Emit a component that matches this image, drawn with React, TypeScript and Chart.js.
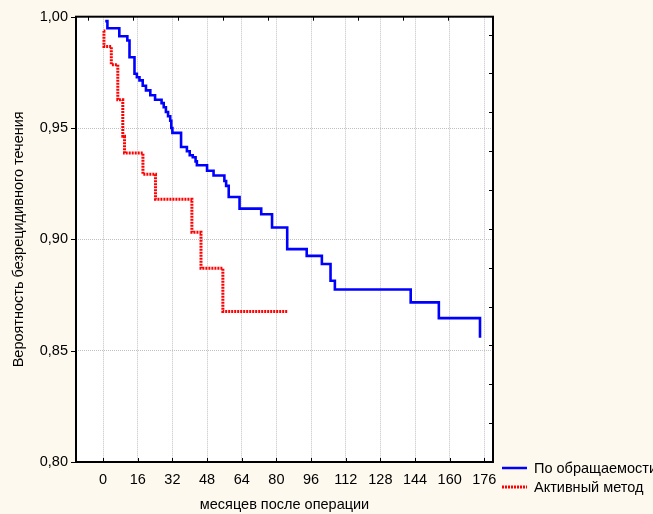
import React, { useEffect, useRef } from "react";
import { Chart, registerables } from "chart.js";

Chart.register(...registerables);

const xTicks = [0, 16, 32, 48, 64, 80, 96, 112, 128, 144, 160, 176];
const yTicks = [0.8, 0.85, 0.9, 0.95, 1.0];
const seriesNames = ["По обращаемости", "Активный метод"];
const xTitle = "месяцев после операции";
const yTitle = "Вероятность безрецидивного течения";

const blueTimes = [1, 2, 7.5, 11.2, 12.2, 14.5, 15.6, 16.8, 18.3, 19.8, 21.8, 24, 27, 28, 29, 30, 31, 31.5, 32, 36, 38.7, 40, 41.4, 42.7, 43.3, 48, 51, 56, 56.8, 58, 63, 73, 78, 85, 94, 101, 105, 107, 142, 155, 174];
const blueValues = [0.998, 0.9948, 0.9912, 0.9893, 0.9818, 0.9744, 0.9728, 0.9714, 0.969, 0.9669, 0.9647, 0.9627, 0.9612, 0.9593, 0.9572, 0.9553, 0.9533, 0.95, 0.9478, 0.9415, 0.9396, 0.9378, 0.9369, 0.935, 0.9333, 0.9308, 0.9287, 0.9262, 0.924, 0.919, 0.9138, 0.9113, 0.9053, 0.8956, 0.8926, 0.8889, 0.8814, 0.8775, 0.8717, 0.8646, 0.8558];

const redTimes = [0.3, 0.4, 3.8, 6.8, 9.1, 9.9, 18.4, 24.2, 41, 45.2, 55.3, 85];
const redValues = [0.9936, 0.9866, 0.9784, 0.9627, 0.9463, 0.9388, 0.9292, 0.918, 0.9032, 0.887, 0.8676, 0.8676];

const FONT = "'Liberation Sans', Arial, sans-serif";
const FSIZE = 14.5;
const BLUE = "#0000ff";
const RED = "#ff0000";

const framePlugin = {
  id: "frame",
  beforeDraw(chart: any) {
    const { ctx, chartArea: a } = chart;
    ctx.save();
    ctx.fillStyle = "#ffffff";
    ctx.fillRect(a.left, a.top, a.right - a.left, a.bottom - a.top);
    ctx.restore();
  },
  afterDraw(chart: any) {
    const { ctx, chartArea: a, scales } = chart;
    const w = a.right - a.left;
    const h = a.bottom - a.top;
    ctx.save();
    ctx.strokeStyle = "#000";
    ctx.lineWidth = 1;
    ctx.setLineDash([]);
    ctx.beginPath();
    xTicks.forEach((v) => {
      const px = Math.round(scales.x.getPixelForValue(v)) + 0.5;
      ctx.moveTo(px, a.bottom);
      ctx.lineTo(px, a.bottom - 4);
    });
    yTicks.forEach((v) => {
      const py = Math.round(scales.y.getPixelForValue(v)) + 0.5;
      ctx.moveTo(a.left, py);
      ctx.lineTo(a.left - 5, py);
    });
    const sx = w / 9.26;
    for (let k = 0; k <= 9; k++) {
      const px = Math.round(a.left + (k + 0.26) * sx) + 0.5;
      ctx.moveTo(px, a.top);
      ctx.lineTo(px, a.top + 4);
    }
    const sy = h / 11.46;
    for (let k = 0; k <= 11; k++) {
      const py = Math.round(a.bottom - k * sy) + 0.5;
      ctx.moveTo(a.right, py);
      ctx.lineTo(a.right - 4, py);
    }
    ctx.stroke();
    ctx.lineWidth = 2;
    ctx.strokeRect(a.left, a.top, w, h);

    // legend
    const lx = a.right + 9;
    const y1 = a.bottom + 6;
    const y2 = a.bottom + 25;
    ctx.lineWidth = 2.5;
    ctx.strokeStyle = BLUE;
    ctx.beginPath();
    ctx.moveTo(lx, y1);
    ctx.lineTo(lx + 25, y1);
    ctx.stroke();
    ctx.lineWidth = 3;
    ctx.strokeStyle = RED;
    ctx.setLineDash([2, 1]);
    ctx.beginPath();
    ctx.moveTo(lx, y2);
    ctx.lineTo(lx + 25, y2);
    ctx.stroke();
    ctx.setLineDash([]);
    ctx.fillStyle = "#000";
    ctx.font = FSIZE + "px " + FONT;
    ctx.textBaseline = "middle";
    ctx.textAlign = "left";
    ctx.fillText(seriesNames[0], lx + 32, y1 + 1);
    ctx.fillText(seriesNames[1], lx + 32, y2 + 1);
    ctx.restore();
  },
};

export default function App() {
  const ref = useRef<HTMLCanvasElement | null>(null);
  useEffect(() => {
    if (!ref.current) return;
    const chart = new Chart(ref.current, {
      type: "line",
      data: {
        datasets: [
          {
            label: seriesNames[0],
            data: blueTimes.map((t, i) => ({ x: t, y: blueValues[i] })),
            borderColor: BLUE,
            borderWidth: 2.6,
            stepped: "before",
            pointRadius: 0,
            fill: false,
          },
          {
            label: seriesNames[1],
            data: redTimes.map((t, i) => ({ x: t, y: redValues[i] })),
            borderColor: RED,
            borderWidth: 3,
            borderDash: [2, 1],
            stepped: "before",
            pointRadius: 0,
            fill: false,
          },
        ],
      },
      options: {
        animation: false,
        responsive: false,
        devicePixelRatio: 1,
        layout: { padding: { top: 15, right: 160, left: 0, bottom: 0 } },
        plugins: { legend: { display: false }, tooltip: { enabled: false } },
        scales: {
          x: {
            type: "linear",
            min: -12.5,
            max: 180,
            afterBuildTicks: (s: any) => {
              s.ticks = xTicks.map((v) => ({ value: v }));
            },
            afterFit: (s: any) => {
              s.height = 52;
            },
            grid: { color: "#c0c0c0", lineWidth: 1, drawTicks: false },
            border: { display: false, dash: [1, 1] },
            ticks: {
              color: "#000",
              font: { family: FONT, size: FSIZE },
              padding: 9,
              maxRotation: 0,
              autoSkip: false,
              callback: (v: any) => String(v),
            },
            title: {
              display: true,
              text: xTitle,
              color: "#000",
              font: { family: FONT, size: FSIZE },
              padding: { top: 0, bottom: 0 },
            },
          },
          y: {
            type: "linear",
            min: 0.8,
            max: 1.0,
            afterBuildTicks: (s: any) => {
              s.ticks = yTicks.map((v) => ({ value: v }));
            },
            afterFit: (s: any) => {
              s.width = 76;
            },
            grid: {
              color: (c: any) =>
                c.tick && (Math.abs(c.tick.value - 0.8) < 1e-6 || Math.abs(c.tick.value - 1) < 1e-6)
                  ? "rgba(0,0,0,0)"
                  : "#c0c0c0",
              lineWidth: 1,
              drawTicks: false,
            },
            border: { display: false, dash: [1, 1] },
            ticks: {
              color: "#000",
              font: { family: FONT, size: FSIZE },
              padding: 8,
              callback: (v: any) => Number(v).toFixed(2).replace(".", ","),
            },
            title: {
              display: true,
              text: yTitle,
              color: "#000",
              font: { family: FONT, size: FSIZE },
              padding: { top: 10, bottom: 0 },
            },
          },
        },
      } as any,
      plugins: [framePlugin],
    });
    return () => chart.destroy();
  }, []);

  return (
    <div
      style={{
        position: "fixed",
        left: 0,
        top: 0,
        width: 653,
        height: 514,
        background: "#fdf9ef",
      }}
    >
      <canvas ref={ref} width={653} height={514} style={{ display: "block" }} />
    </div>
  );
}
